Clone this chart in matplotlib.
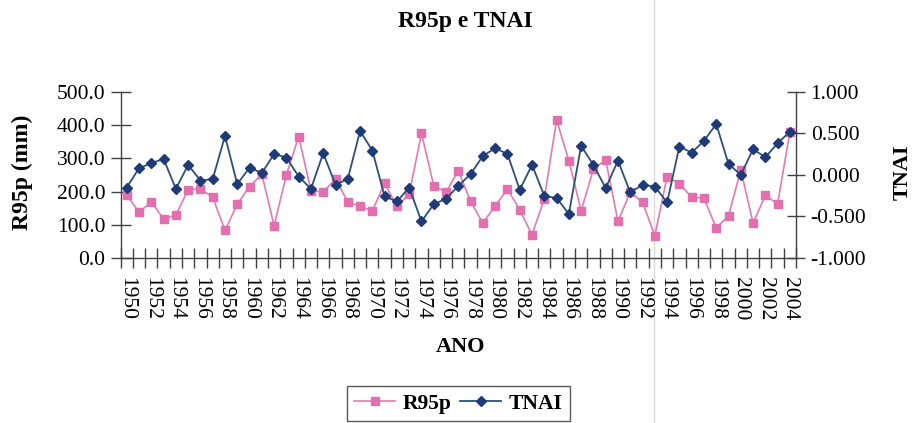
import matplotlib
matplotlib.use("Agg")
import matplotlib.pyplot as plt
from matplotlib.lines import Line2D
import numpy as np

# Annual series 1950-2004
years = list(range(1950, 2005))
r95p = [190, 137, 169, 117, 130, 205, 208, 183, 83, 162, 215, 252, 97, 250, 365,
        203, 198, 238, 168, 155, 142, 225, 155, 192, 375, 217, 198, 263, 170, 105,
        157, 207, 145, 70, 178, 415, 293, 142, 267, 295, 110, 198, 168, 67, 245,
        223, 183, 180, 90, 127, 265, 105, 188, 163, 380]
tnai = [-0.152, 0.080, 0.140, 0.192, -0.168, 0.120, -0.068, -0.052, 0.468, -0.112,
        0.088, 0.020, 0.252, 0.208, -0.020, -0.168, 0.260, -0.120, -0.048, 0.528,
        0.292, -0.260, -0.320, -0.152, -0.560, -0.352, -0.288, -0.132, 0.008, 0.228,
        0.320, 0.252, -0.180, 0.120, -0.252, -0.280, -0.468, 0.348, 0.120, -0.160,
        0.172, -0.212, -0.120, -0.140, -0.332, 0.340, 0.268, 0.408, 0.612, 0.132,
        0.000, 0.308, 0.212, 0.380, 0.520]
left_ticks = [0, 100, 200, 300, 400, 500]
right_ticks = [-1.0, -0.5, 0.0, 0.5, 1.0]
year_labels = list(range(1950, 2005, 2))

plt.rcParams['font.family'] = ['Liberation Serif', 'DejaVu Serif']

PINK = '#e46fae'
PINK_LINE = '#e07cb2'
BLUE = '#1f3a78'
BLUE_LINE = '#2c4f78'
AXC = '#404040'

fig = plt.figure(figsize=(9.15, 4.23), dpi=100)
fig.patch.set_facecolor('white')

# faint vertical fold line across the page
fig.add_artist(Line2D([654 / 915, 654 / 915], [0, 1], transform=fig.transFigure,
                      color='#d9d9d9', lw=1.0, zorder=0))

ax = fig.add_axes([0.1318, 0.390, 0.7382, 0.3932])
ax2 = ax.twinx()

ax.plot(years, r95p, color=PINK_LINE, lw=1.2, marker='s', ms=5.2,
        mfc=PINK, mec=PINK, label='R95p', zorder=3)
ax2.plot(years, tnai, color=BLUE_LINE, lw=1.3, marker='D', ms=5.6,
         mfc=BLUE, mec=BLUE, label='TNAI', zorder=4)

ax.set_xlim(1949.5, 2004.5)
ax.set_ylim(0, 500)
ax2.set_ylim(-1, 1)

for a in (ax, ax2):
    a.spines['top'].set_visible(False)
    for s in a.spines.values():
        s.set_color(AXC)
        s.set_linewidth(1.0)
    a.set_facecolor('none')
ax2.spines['left'].set_visible(False)
ax2.spines['bottom'].set_visible(False)
ax.spines['right'].set_visible(False)

ax.set_yticks(left_ticks)
ax.set_yticklabels([f'{v:.1f}' for v in left_ticks])
ax2.set_yticks(right_ticks)
ax2.set_yticklabels([f'{v:.3f}' for v in right_ticks])

ax.set_xticks(year_labels)
ax.set_xticklabels([str(y) for y in year_labels], rotation=-90)
ax.set_xticks(np.arange(1949.5, 2005.0, 1.0), minor=True)
ax.tick_params(axis='x', which='major', length=0, pad=14, labelsize=15.5)
ax.tick_params(axis='x', which='minor', direction='inout', length=14,
               width=1.0, color=AXC)
ax.tick_params(axis='y', direction='inout', length=14, width=1.0, color=AXC,
               labelsize=15.5, pad=4)
ax2.tick_params(axis='y', direction='inout', length=13, width=1.0, color=AXC,
                labelsize=15.5, pad=4)

fig.text(465 / 915, 1 - 21 / 423, 'R95p e TNAI', ha='center', va='center',
         fontsize=17, fontweight='bold')
fig.text(22 / 915, 1 - 172 / 423, 'R95p (mm)', ha='center', va='center',
         rotation=90, fontsize=17, fontweight='bold')
fig.text(903 / 915, 1 - 172 / 423, 'TNAI', ha='center', va='center',
         rotation=90, fontsize=16, fontweight='bold')
fig.text(461 / 915, 1 - 347 / 423, 'ANO', ha='center', va='center',
         fontsize=16, fontweight='bold')

h1, l1 = ax.get_legend_handles_labels()
h2, l2 = ax2.get_legend_handles_labels()
leg = fig.legend(h1 + h2, l1 + l2, loc='upper center',
                 bbox_to_anchor=(458.5 / 915, 1 - 386 / 423), ncol=2,
                 frameon=True, fancybox=False, borderpad=0.35,
                 borderaxespad=0.0,
                 handlelength=1.9, handletextpad=0.35, columnspacing=0.4,
                 prop={'weight': 'bold', 'size': 15.5})
leg.get_frame().set_edgecolor('#303030')
leg.get_frame().set_linewidth(1.0)

fig.savefig('out.png', dpi=100, facecolor='white')
